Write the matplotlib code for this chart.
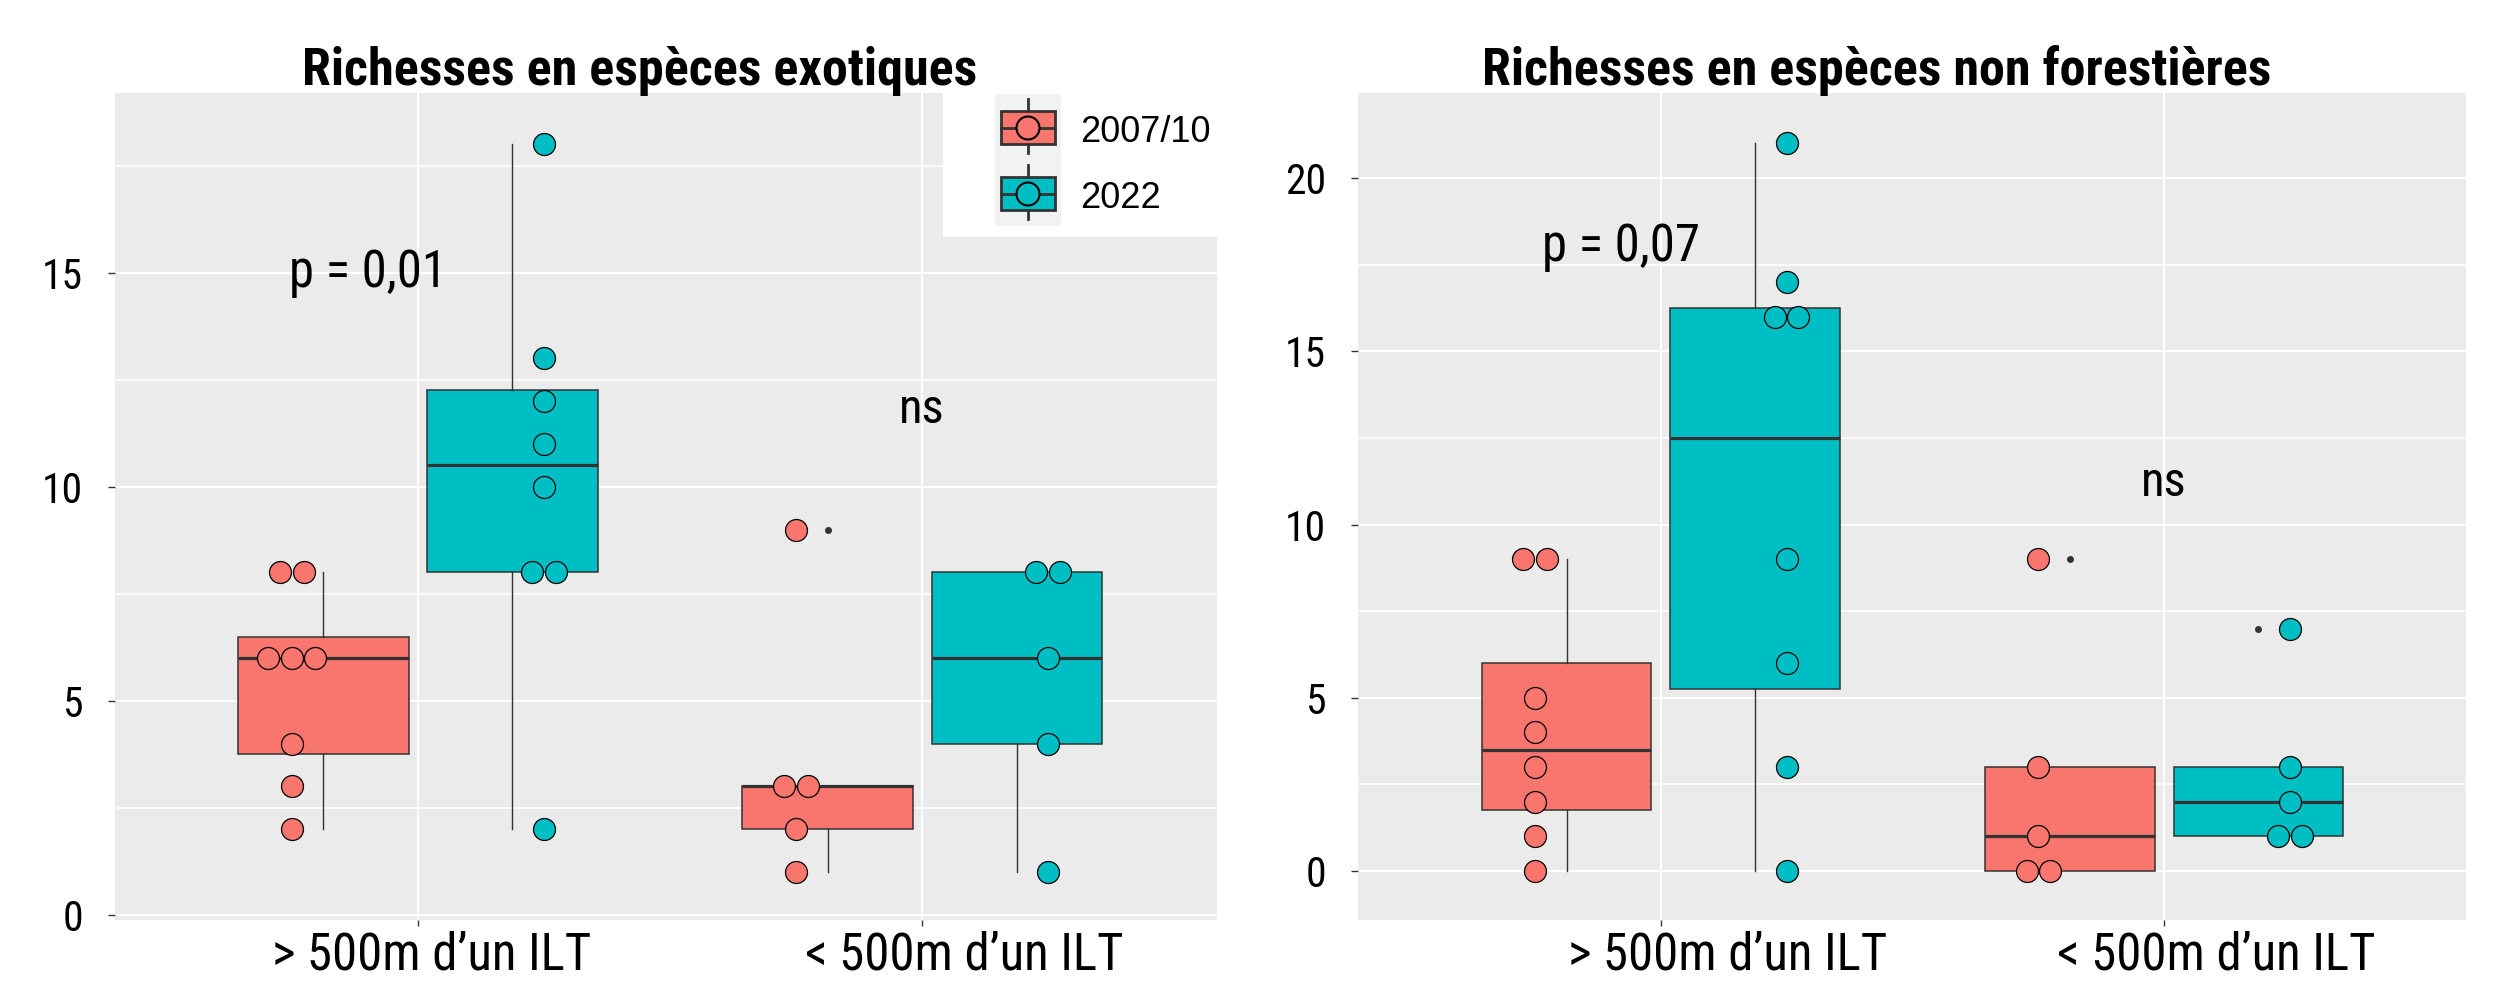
import numpy as np
import matplotlib.pyplot as plt
import matplotlib.transforms as mtransforms
from matplotlib.patches import Rectangle, Circle

W, H = 2508, 983

categories = ['> 500m d\u2019un ILT', '< 500m d\u2019un ILT']
periodes = ['2007/10', '2022']
couleurs = ['#F8766D', '#00BFC4']

# especes exotiques : [categorie][periode]
exo_loin_2007 = [8, 8, 6, 6, 6, 4, 3, 2]
exo_loin_2022 = [18, 13, 12, 11, 10, 8, 8, 2]
exo_proche_2007 = [9, 3, 3, 2, 1]
exo_proche_2022 = [8, 8, 6, 4, 1]

# especes non forestieres
nf_loin_2007 = [9, 9, 5, 4, 3, 2, 1, 0]
nf_loin_2022 = [21, 17, 16, 16, 9, 6, 3, 0]
nf_proche_2007 = [9, 3, 1, 0, 0]
nf_proche_2022 = [7, 3, 2, 1, 1]

titres = ['Richesses en espèces exotiques', 'Richesses en espèces non forestières']
p_textes = ['p = 0,01', 'p = 0,07']
p_pos = [(0.9, 15), (0.92, 18)]
ns_pos = [(2.0, 11.8), (2.0, 11.2)]
yticks = [[0, 5, 10, 15], [0, 5, 10, 15, 20]]

panneaux = [
    [[exo_loin_2007, exo_loin_2022], [exo_proche_2007, exo_proche_2022]],
    [[nf_loin_2007, nf_loin_2022], [nf_proche_2007, nf_proche_2022]],
]

ETROIT = 'Roboto Condensed'
GRIS = '#333333'


def empiler(valeurs, x0, d):
    xs, ys = [], []
    for v in sorted(set(valeurs)):
        k = valeurs.count(v)
        for i in range(k):
            xs.append(x0 + (i - (k - 1) / 2) * d)
            ys.append(v)
    return xs, ys


fig = plt.figure(figsize=(W / 100, H / 100), dpi=100)

# positions des panneaux en pixels (gauche, droite, haut, bas)
cadres = [(115, 1217, 93, 920), (1358, 2466, 93, 920)]
ylims = [(-0.12, 19.2), (-1.41, 22.45)]
xlims = [(0.399, 2.585), (0.398, 2.6)]
decal_labels = [[14, 42], [67, 52]]
titre_x = [640, 1877]

for k, (x0, x1, y0, y1) in enumerate(cadres):
    ax = fig.add_axes([x0 / W, 1 - y1 / H, (x1 - x0) / W, (y1 - y0) / H])
    ax.set_facecolor('#EBEBEB')
    for s in ax.spines.values():
        s.set_visible(False)

    for i, cat in enumerate(categories):
        xc = i + 1
        for j in range(2):
            vals = panneaux[k][i][j]
            sens = -1 if j == 0 else 1
            ax.boxplot(vals, positions=[xc + sens * 0.1875], widths=0.3375,
                       patch_artist=True, showcaps=False, whis=1.5,
                       boxprops=dict(facecolor=couleurs[j], edgecolor=GRIS, linewidth=1.1),
                       medianprops=dict(color=GRIS, linewidth=2.3),
                       whiskerprops=dict(color=GRIS, linewidth=1.0),
                       flierprops=dict(marker='o', markersize=4, markerfacecolor=GRIS,
                                       markeredgecolor=GRIS),
                       manage_ticks=False, zorder=2)
            xs, ys = empiler(vals, xc + sens * 0.25, 0.0467)
            ax.scatter(xs, ys, s=250, c=couleurs[j], edgecolors='black',
                       linewidths=0.9, zorder=3)

    ax.set_xlim(*xlims[k])
    ax.set_ylim(*ylims[k])
    ax.set_yticks(yticks[k])
    ax.set_yticks(np.arange(2.5, ylims[k][1], 5), minor=True)
    ax.set_xticks([1, 2])
    ax.set_xticklabels(categories, fontfamily=ETROIT, fontsize=36.5)
    ax.set_yticklabels([str(v) for v in yticks[k]], fontfamily=ETROIT, fontsize=30)
    ax.tick_params(axis='y', which='major', length=5, width=1, color=GRIS, pad=18)
    ax.tick_params(axis='y', which='minor', length=0)
    ax.tick_params(axis='x', length=4.5, width=1, color=GRIS, pad=3)
    ax.grid(True, which='major', color='white', linewidth=1.5, zorder=0)
    ax.grid(True, which='minor', axis='y', color='white', linewidth=1.2, zorder=0)
    ax.set_axisbelow(True)
    for lab, dx in zip(ax.get_xticklabels(), decal_labels[k]):
        lab.set_transform(lab.get_transform() +
                          mtransforms.ScaledTranslation(dx / 100, 0, fig.dpi_scale_trans))

    ax.text(*p_pos[k], p_textes[k], fontfamily=ETROIT, fontsize=36.5,
            ha='center', va='center', zorder=4)
    ax.text(*ns_pos[k], 'ns', fontfamily=ETROIT, fontsize=35,
            ha='center', va='center', zorder=4)

    fig.text(titre_x[k] / W, 1 - 85 / H, titres[k], fontfamily=ETROIT,
             fontweight='bold', fontsize=37.5, ha='center', va='baseline')

# legende dessinee en pixels, en haut a droite du premier panneau
lx0, lx1, ly0, ly1 = 943, 1217, 93, 237
lg = fig.add_axes([lx0 / W, 1 - ly1 / H, (lx1 - lx0) / W, (ly1 - ly0) / H])
lg.set_xlim(lx0, lx1)
lg.set_ylim(ly1, ly0)
lg.axis('off')
lg.add_patch(Rectangle((lx0, ly0), lx1 - lx0, ly1 - ly0, facecolor='white',
                       edgecolor='none', zorder=0))
for j, nom in enumerate(periodes):
    yk = 94 + 66 * j
    lg.add_patch(Rectangle((995, yk), 66, 66, facecolor='#F2F2F2', edgecolor='none', zorder=1))
    lg.plot([1028, 1028], [yk + 5, yk + 59], color=GRIS, linewidth=2, zorder=2)
    lg.add_patch(Rectangle((1001, yk + 17), 54, 33, facecolor=couleurs[j],
                           edgecolor=GRIS, linewidth=2, zorder=3))
    lg.plot([1001, 1055], [yk + 34, yk + 34], color=GRIS, linewidth=2, zorder=4)
    lg.add_patch(Circle((1028, yk + 34), 11.5, facecolor=couleurs[j],
                        edgecolor='black', linewidth=1.5, zorder=5))
    lg.text(1080, yk + 38, nom, fontfamily='Liberation Sans', fontsize=26,
            ha='left', va='center', zorder=6)

fig.savefig('out.png', dpi=100, facecolor='white')
